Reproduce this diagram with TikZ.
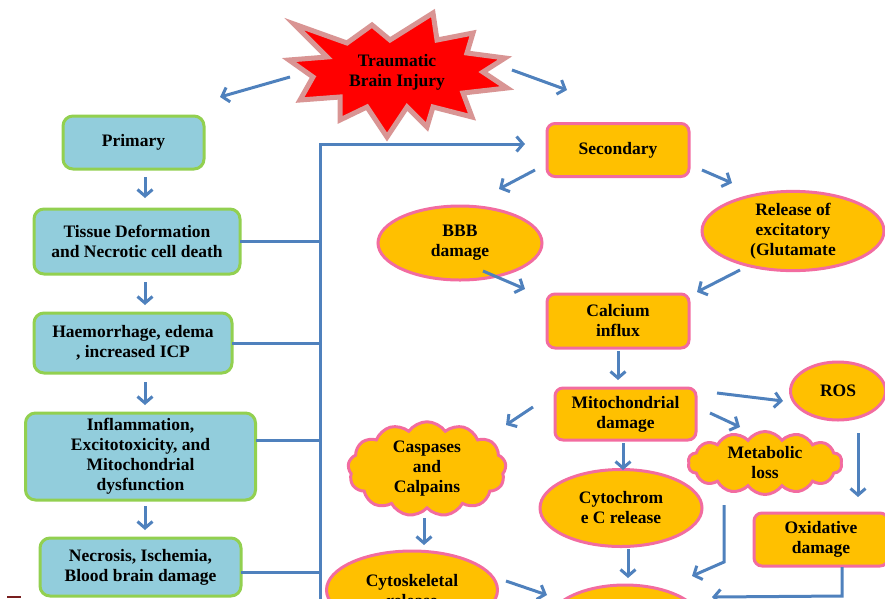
\documentclass[tikz,border=0pt]{standalone}
\usepackage{fontspec}
\setmainfont{Liberation Serif}
\usetikzlibrary{arrows.meta,shapes.geometric,shapes.symbols}
\definecolor{arrowblue}{RGB}{79,129,189}
\definecolor{boxblue}{RGB}{146,205,220}
\definecolor{boxgreen}{RGB}{146,208,80}
\definecolor{orangefill}{RGB}{255,192,0}
\definecolor{pinkline}{RGB}{242,108,160}
\definecolor{starred}{RGB}{255,0,0}
\definecolor{starline}{RGB}{217,149,148}
\definecolor{markred}{RGB}{120,30,30}
\begin{document}
\begin{tikzpicture}[x=1pt,y=-1pt,
 txt/.style={font=\fontsize{17.5}{20}\selectfont\bfseries, align=center, text=black},
 primbox/.style={txt, draw=boxgreen, fill=boxblue, line width=3pt, rounded corners=10pt, inner sep=0pt},
 secbox/.style={txt, draw=pinkline, fill=orangefill, line width=3pt, rounded corners=8pt, inner sep=0pt},
 secell/.style={txt, ellipse, draw=pinkline, fill=orangefill, line width=3pt, inner sep=0pt},
 seccloud/.style={txt, cloud, cloud puffs=13, cloud puff arc=110, draw=pinkline, fill=orangefill, line width=3pt, inner sep=0pt},
 arr/.style={draw=arrowblue, line width=3pt, -{Straight Barb[length=6.5pt,width=15pt]}},
 conn/.style={draw=arrowblue, line width=3pt},
]
\useasboundingbox (0,0) rectangle (885,598);
\clip (0,0) rectangle (885,598);

% starburst
\draw[draw=starline, fill=starred, line width=5pt, line join=miter]
 (289,60) -- (327,57) -- (294,24) -- (347,43) -- (372,25) -- (390,40) -- (433,13) -- (437,40)
 -- (473,33) -- (467,53) -- (505,58) -- (483,72) -- (507,88) -- (463,93) -- (472,117) -- (433,107)
 -- (427,127) -- (407,107) -- (387,137) -- (367,107) -- (340,120) -- (340,97) -- (300,100) -- (313,77) -- cycle;
\node[txt] (tbi) at (397,72) {Traumatic\\Brain Injury};

% left column
\node[primbox, minimum width=141pt, minimum height=53pt] (primary) at (133.5,142.5) {Primary};
\node[primbox, minimum width=206pt, minimum height=65pt] (tissue) at (137,241.5) {Tissue Deformation\\and Necrotic cell death};
\node[primbox, minimum width=198pt, minimum height=60pt] (haem) at (133,343) {Haemorrhage, edema\\, increased ICP};
\node[primbox, minimum width=230pt, minimum height=87pt] (inflam) at (140.5,456.5) {Inflammation,\\Excitotoxicity, and\\Mitochondrial\\dysfunction};
\node[primbox, minimum width=201pt, minimum height=58pt] (necro) at (140.5,567) {Necrosis, Ischemia,\\Blood brain damage};

% right side
\node[secbox, minimum width=142pt, minimum height=53pt] (secondary) at (618,150) {Secondary};
\node[secell, minimum width=164pt, minimum height=74pt] (bbb) at (460,243) {BBB\\damage};
\node[secell, minimum width=182pt, minimum height=77pt] (release) at (793,231) {Release of\\excitatory\\(Glutamate};
\node[secbox, minimum width=142pt, minimum height=54pt] (calcium) at (618,321) {Calcium\\influx};
\node[secbox, minimum width=141pt, minimum height=52pt] (mito) at (625.5,414) {Mitochondrial\\damage};
\node[secell, minimum width=95pt, minimum height=58pt] (ros) at (838,391) {ROS};
\node[seccloud, cloud puffs=14, aspect=2.5, minimum width=154pt, minimum height=63pt] (metab) at (765,463) {Metabolic\\loss};
\node[seccloud, aspect=1.9, minimum width=158pt, minimum height=82pt] (casp) at (427,469) {Caspases\\and\\Calpains};
\node[secell, minimum width=162pt, minimum height=77pt] (cytc) at (621,508) {Cytochrom\\e C release};
\node[secbox, minimum width=134pt, minimum height=53pt] (oxid) at (821,539.5) {Oxidative\\damage};
\node[secell, minimum width=171pt, minimum height=78pt] (cytosk) at (412,590) {Cytoskeletal\\release};
\node[secell, minimum width=156pt, minimum height=80pt] (bottom) at (625,625) {};

% coordinates for free arrow ends
\coordinate (tbiL1) at (290,77);  \coordinate (tbiL2) at (220,97);
\coordinate (tbiR1) at (512,70);  \coordinate (tbiR2) at (567,90);
\coordinate (p1a) at (145,177); \coordinate (p1b) at (145,198);
\coordinate (p2a) at (145,282); \coordinate (p2b) at (145,305);
\coordinate (p3a) at (145,382); \coordinate (p3b) at (145,405);
\coordinate (p4a) at (145,506); \coordinate (p4b) at (145,530);
\coordinate (busTop) at (320,144); \coordinate (busBot) at (320,610);
\coordinate (secIn) at (525,144);
\coordinate (tissueOut) at (240,241); \coordinate (haemOut) at (232,343);
\coordinate (inflamOut) at (256,440); \coordinate (necroOut) at (241,572);
\coordinate (s1a) at (535,170); \coordinate (s1b) at (499,189);
\coordinate (s2a) at (702,170); \coordinate (s2b) at (732,183);
\coordinate (b1a) at (483,271); \coordinate (b1b) at (525,289);
\coordinate (r1a) at (740,270); \coordinate (r1b) at (697,292);
\coordinate (c1a) at (618,351); \coordinate (c1b) at (618,380);
\coordinate (m1a) at (717,393); \coordinate (m1b) at (783,401);
\coordinate (m2a) at (710,413); \coordinate (m2b) at (740,427);
\coordinate (m3a) at (533,407); \coordinate (m3b) at (506,425);
\coordinate (m4a) at (623,443); \coordinate (m4b) at (623,470);
\coordinate (o1a) at (858,433); \coordinate (o1b) at (858,497);
\coordinate (k1a) at (424,518); \coordinate (k1b) at (424,545);
\coordinate (y1a) at (628,549); \coordinate (y1b) at (628,578);
\coordinate (mlA) at (724,505); \coordinate (mlB) at (724,562); \coordinate (mlC) at (692,576);
\coordinate (odA) at (842,567); \coordinate (odB) at (842,596); \coordinate (odC) at (712,597);
\coordinate (csA) at (506,581); \coordinate (csB) at (547,595);

% connectors
\draw[arr] (tbiL1) -- (tbiL2);
\draw[arr] (tbiR1) -- (tbiR2);
\draw[arr] (p1a) -- (p1b);
\draw[arr] (p2a) -- (p2b);
\draw[arr] (p3a) -- (p3b);
\draw[arr] (p4a) -- (p4b);
\draw[conn] (tissueOut) -- (tissueOut -| busTop);
\draw[conn] (haemOut) -- (haemOut -| busTop);
\draw[conn] (inflamOut) -- (inflamOut -| busTop);
\draw[conn] (necroOut) -- (necroOut -| busTop);
\draw[arr, line join=miter] (busBot) -- (busTop) -- (secIn);
\draw[arr] (s1a) -- (s1b);
\draw[arr] (s2a) -- (s2b);
\draw[arr] (b1a) -- (b1b);
\draw[arr] (r1a) -- (r1b);
\draw[arr] (c1a) -- (c1b);
\draw[arr] (m1a) -- (m1b);
\draw[arr] (m2a) -- (m2b);
\draw[arr] (m3a) -- (m3b);
\draw[arr] (m4a) -- (m4b);
\draw[arr] (o1a) -- (o1b);
\draw[arr] (k1a) -- (k1b);
\draw[arr] (y1a) -- (y1b);
\draw[arr] (mlA) -- (mlB) -- (mlC);
\draw[arr] (odA) -- (odB) -- (odC);
\draw[arr] (csA) -- (csB);

% small mark at bottom left
\draw[markred, line width=1.5pt] (7,597) -- (21,597);
\end{tikzpicture}
\end{document}
